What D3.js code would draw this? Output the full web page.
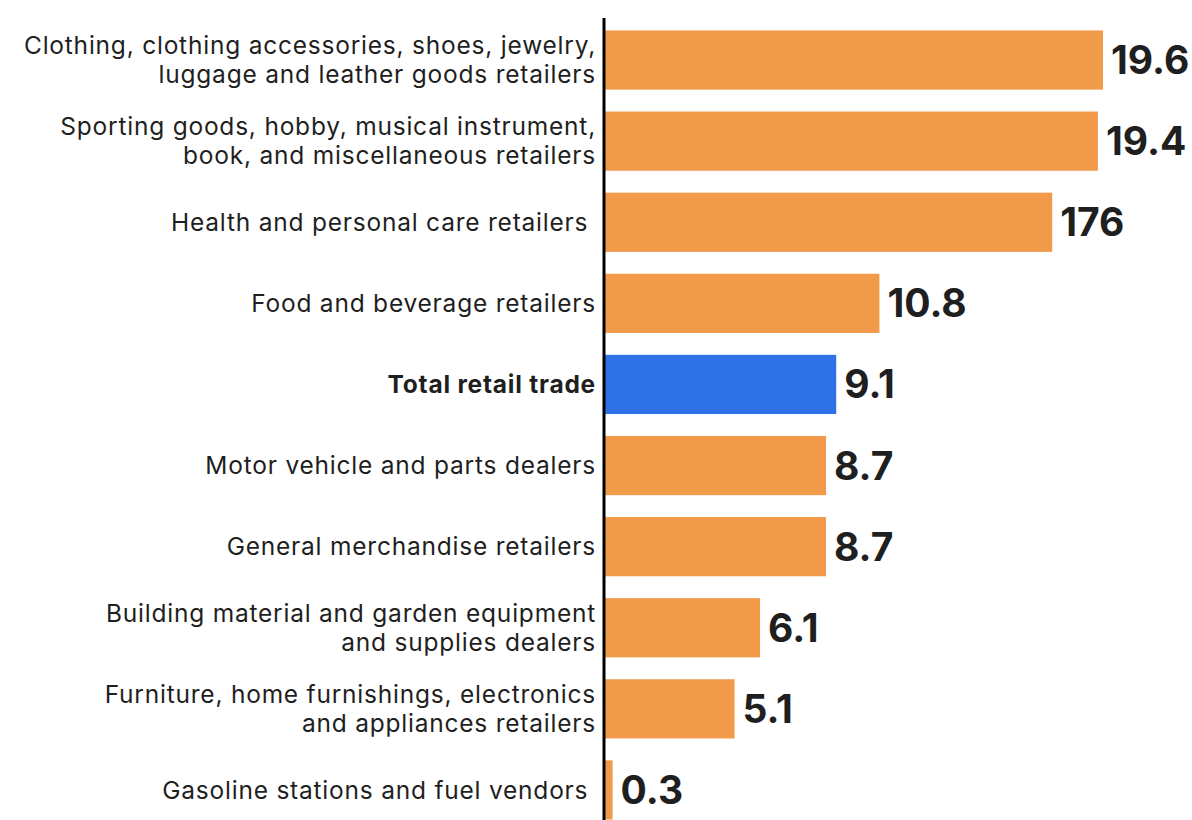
<!DOCTYPE html>
<html>
<head>
<meta charset="utf-8">
<script src="https://cdn.jsdelivr.net/npm/d3@7"></script>
<style>
  html, body { margin: 0; padding: 0; background: #fff; }
  svg { display: block; font-family: Inter, "Noto Sans", sans-serif; }
</style>
</head>
<body>
<svg id="chart" width="1192" height="820"></svg>
<script>
// Retail categories (each entry is the lines of its label)
const categories = [
  ["Clothing, clothing accessories, shoes, jewelry,", "luggage and leather goods retailers"],
  ["Sporting goods, hobby, musical instrument,", "book, and miscellaneous retailers"],
  ["Health and personal care retailers "],
  ["Food and beverage retailers"],
  ["Total retail trade"],
  ["Motor vehicle and parts dealers"],
  ["General merchandise retailers"],
  ["Building material and garden equipment", "and supplies dealers"],
  ["Furniture, home furnishings, electronics", "and appliances retailers"],
  ["Gasoline stations and fuel vendors "]
];
const values = [19.6, 19.4, 17.6, 10.8, 9.1, 8.7, 8.7, 6.1, 5.1, 0.3];
const valueLabels = ["19.6", "19.4", "176", "10.8", "9.1", "8.7", "8.7", "6.1", "5.1", "0.3"];
const highlighted = [false, false, false, false, true, false, false, false, false, false];

const svg = d3.select("#chart");
const axisX = 604;

const x = d3.scaleLinear().domain([0, 19.6]).range([605, 1103]);
const y = d3.scaleBand()
  .domain(d3.range(values.length))
  .range([19.5, 830.5])
  .paddingInner(0.27)
  .paddingOuter(0.135);

const rows = svg.append("g").selectAll("g")
  .data(values.map((v, i) => ({ v, i })))
  .join("g");

rows.append("rect")
  .attr("x", x(0))
  .attr("y", d => y(d.i))
  .attr("width", d => x(d.v) - x(0))
  .attr("height", y.bandwidth())
  .attr("fill", d => highlighted[d.i] ? "#2F72E8" : "#F09A4A");

rows.append("text")
  .attr("x", d => x(d.v) + 8)
  .attr("y", d => y(d.i) + y.bandwidth() / 2)
  .attr("dy", "0.36em")
  .attr("font-size", 39)
  .attr("font-weight", 700)
  .attr("fill", "#1f1f1f")
  .text(d => valueLabels[d.i]);

const lineGap = 29;
rows.append("text")
  .attr("x", 596)
  .attr("text-anchor", "end")
  .attr("font-size", 24.5)
  .attr("letter-spacing", "0.78px")
  .attr("font-weight", d => highlighted[d.i] ? 700 : 400)
  .attr("fill", "#1f1f1f")
  .each(function (d) {
    const lines = categories[d.i];
    const cy = y(d.i) + y.bandwidth() / 2;
    const start = cy - (lines.length - 1) * lineGap / 2;
    d3.select(this).selectAll("tspan")
      .data(lines)
      .join("tspan")
      .attr("x", 596)
      .attr("y", (l, k) => start + k * lineGap)
      .attr("dy", "0.36em")
      .style("white-space", "pre")
      .text(l => l);
  });

// Baseline axis
svg.append("line")
  .attr("x1", axisX).attr("x2", axisX)
  .attr("y1", 18).attr("y2", 820)
  .attr("stroke", "#000")
  .attr("stroke-width", 3);
</script>
</body>
</html>
